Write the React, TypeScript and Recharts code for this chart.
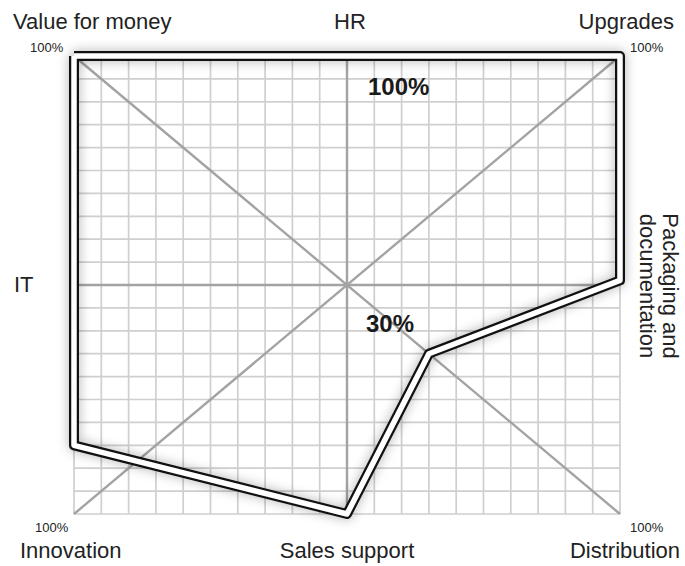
import { ComposedChart, XAxis, YAxis, Line, ReferenceLine } from "recharts";

// axes of the square radar, clockwise from the top-left corner
const AXES = [
  "Value for money",
  "HR",
  "Upgrades",
  "Packaging and documentation",
  "Distribution",
  "Sales support",
  "Innovation",
  "IT",
];

// where the outline meets each axis, in % of the half-width / half-height
const REACH_X = [-100, 0, 100, 100, 30, 0, -100, -100];
const REACH_Y = [100, 100, 100, 2, -30, -100, -70, 0];

// grid every 10%
const GRID_TICKS = [
  -90, -80, -70, -60, -50, -40, -30, -20, -10, 10, 20, 30, 40, 50, 60, 70, 80,
  90,
];
const EDGE_TICKS = [-100, 100];

const W = 685;
const H = 566;
const FONT = "'Liberation Sans', Arial, sans-serif";
const INK = "#222";

const outline = AXES.map((name, i) => ({ name, x: REACH_X[i], y: REACH_Y[i] }));
const data = [...outline, outline[0]];

export default function App() {
  return (
    <div style={{ position: "absolute", left: 0, top: 0, width: W, height: H, background: "#fff" }}>
      <style>{`.outline-shadow { filter: drop-shadow(0 0 6px rgba(0,0,0,0.3)); }`}</style>
      <ComposedChart
        width={W}
        height={H}
        data={data}
        margin={{ top: 56, right: 65, bottom: 52, left: 74 }}
      >
        <XAxis type="number" dataKey="x" domain={[-100, 100]} hide />
        <YAxis type="number" domain={[-100, 100]} hide />

        {GRID_TICKS.map((t) => (
          <ReferenceLine key={"v" + t} x={t} stroke="#cfcfcf" strokeWidth={1.7} />
        ))}
        {GRID_TICKS.map((t) => (
          <ReferenceLine key={"h" + t} y={t} stroke="#cfcfcf" strokeWidth={1.7} />
        ))}
        {EDGE_TICKS.map((t) => (
          <ReferenceLine key={"ev" + t} x={t} stroke="#cfcfcf" strokeWidth={1.7} />
        ))}
        {EDGE_TICKS.map((t) => (
          <ReferenceLine key={"eh" + t} y={t} stroke="#cfcfcf" strokeWidth={1.7} />
        ))}

        <ReferenceLine x={0} stroke="#a3a3a3" strokeWidth={2.4} />
        <ReferenceLine y={0} stroke="#a3a3a3" strokeWidth={2.4} />
        <ReferenceLine
          segment={[
            { x: -100, y: 100 },
            { x: 100, y: -100 },
          ]}
          stroke="#a3a3a3"
          strokeWidth={2.4}
        />
        <ReferenceLine
          segment={[
            { x: -100, y: -100 },
            { x: 100, y: 100 },
          ]}
          stroke="#a3a3a3"
          strokeWidth={2.4}
        />

        <Line
          className="outline-shadow"
          type="linear"
          dataKey="y"
          stroke="#111"
          strokeWidth={10}
          strokeLinejoin="round"
          dot={false}
          activeDot={false}
          isAnimationActive={false}
        />
        <Line
          type="linear"
          dataKey="y"
          stroke="#fff"
          strokeWidth={5.5}
          strokeLinejoin="round"
          dot={false}
          activeDot={false}
          isAnimationActive={false}
        />
      </ComposedChart>

      <svg
        width={W}
        height={H}
        style={{ position: "absolute", left: 0, top: 0, pointerEvents: "none" }}
        fontFamily={FONT}
        fill={INK}
      >
        <text x={13} y={29} fontSize={22}>{AXES[0]}</text>
        <text x={350} y={29} fontSize={22} textAnchor="middle">{AXES[1]}</text>
        <text x={674} y={29} fontSize={22} textAnchor="end">{AXES[2]}</text>
        <text
          x={663}
          y={286}
          fontSize={22}
          textAnchor="middle"
          transform="rotate(90, 663, 286)"
        >
          <tspan x={663} dy={0}>Packaging and</tspan>
          <tspan x={663} dy={23}>documentation</tspan>
        </text>
        <text x={680} y={558} fontSize={22} textAnchor="end">{AXES[4]}</text>
        <text x={347} y={558} fontSize={22} textAnchor="middle">{AXES[5]}</text>
        <text x={20} y={558} fontSize={22}>{AXES[6]}</text>
        <text x={14} y={292} fontSize={22}>{AXES[7]}</text>

        <text x={30} y={52} fontSize={13}>100%</text>
        <text x={630} y={52} fontSize={13}>100%</text>
        <text x={35} y={532} fontSize={13}>100%</text>
        <text x={630} y={532} fontSize={13}>100%</text>

        <text x={368} y={95} fontSize={24} fontWeight="bold" fill="#1a1a1a">100%</text>
        <text x={366} y={332} fontSize={24} fontWeight="bold" fill="#1a1a1a">30%</text>
      </svg>
    </div>
  );
}
